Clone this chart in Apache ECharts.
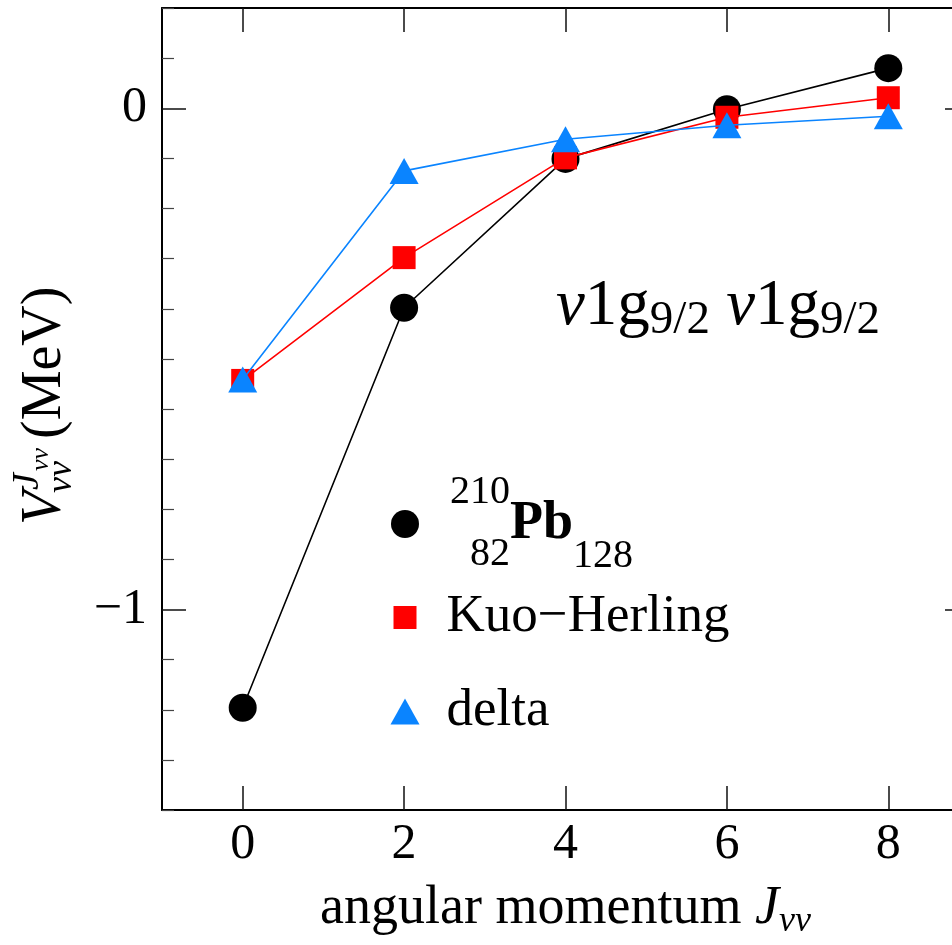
<!DOCTYPE html>
<html>
<head>
<meta charset="utf-8">
<style>
  html, body { margin: 0; padding: 0; background: #ffffff; overflow: hidden; }
  #chart { width: 969px; height: 945px; }
</style>
<script src="https://cdn.jsdelivr.net/npm/echarts@6/dist/echarts.min.js"></script>
</head>
<body>
<div id="chart"></div>
<script>
// Two-neutron interaction matrix elements in the nu 1g9/2 orbit vs. angular momentum J
const jValues = [0, 2, 4, 6, 8];
const pb210 = [-1.196, -0.398, -0.101, -0.002, 0.080];
const kuoHerling = [-0.543, -0.298, -0.099, -0.018, 0.021];
const deltaForce = [-0.541, -0.125, -0.062, -0.034, -0.016];

// Tick positions
const xTickValues = [0, 2, 4, 6, 8];
const yMajorTicks = [-1, 0];
const yMinorTicks = [-1.4, -1.3, -1.2, -1.1, -0.9, -0.8, -0.7, -0.6, -0.5, -0.4, -0.3, -0.2, -0.1, 0.1, 0.2];

const FONT = '"Liberation Serif", "Times New Roman", serif';
const BLUE = '#0a84ff';
const RED = '#ff0000';

const pairs = (xs, ys) => xs.map((x, i) => [x, ys[i]]);

const frameLine = { show: true, onZero: false, lineStyle: { color: '#000', width: 2 } };
const noLine = { show: false, onZero: false };

function yAxisDef(position, ticks, length, withLabels, lineShown) {
  return {
    type: 'value', position, min: -1.4, max: 0.2, interval: 0.1,
    axisLine: lineShown ? frameLine : noLine,
    splitLine: { show: false },
    axisTick: {
      show: true, inside: true, length, customValues: ticks,
      lineStyle: { color: length > 15 ? '#111' : '#444', width: length > 15 ? 1.5 : 1.2 }
    },
    axisLabel: withLabels ? {
      show: true, customValues: yMajorTicks, margin: 15, fontSize: 50,
      fontFamily: FONT, color: '#000',
      formatter: v => (v < 0 ? '\u2212' + Math.abs(v) : String(v))
    } : { show: false }
  };
}

const option = {
  backgroundColor: '#ffffff',
  animation: false,
  // the frame runs from x = -1 to 9; its right edge sits just past the visible page
  grid: { left: 162, top: 8, width: 807, height: 807, containLabel: false },
  xAxis: [
    {
      type: 'value', position: 'bottom', min: -1, max: 9, interval: 1,
      axisLine: frameLine,
      splitLine: { show: false },
      axisTick: { show: true, inside: true, length: 24, customValues: xTickValues,
        lineStyle: { color: '#111', width: 1.5 } },
      axisLabel: { show: true, customValues: xTickValues, margin: 10, fontSize: 50,
        fontFamily: FONT, color: '#000' },
      name: '{n|angular momentum }{i|J}{s|\u03bd\u03bd}',
      nameLocation: 'middle', nameGap: 68,
      nameTextStyle: {
        fontFamily: FONT, color: '#000',
        rich: {
          n: { fontSize: 54, fontFamily: FONT, lineHeight: 62, color: '#000' },
          i: { fontSize: 54, fontFamily: FONT, fontStyle: 'italic', lineHeight: 62, color: '#000' },
          s: { fontSize: 36, fontFamily: FONT, fontStyle: 'italic', lineHeight: 36, verticalAlign: 'bottom', color: '#000' }
        }
      }
    },
    {
      type: 'value', position: 'top', min: -1, max: 9, interval: 1,
      axisLine: frameLine,
      splitLine: { show: false },
      axisTick: { show: true, inside: true, length: 24, customValues: xTickValues,
        lineStyle: { color: '#111', width: 1.5 } },
      axisLabel: { show: false }
    }
  ],
  yAxis: [
    yAxisDef('left', yMajorTicks, 24, true, true),
    yAxisDef('left', yMinorTicks, 12, false, false),
    yAxisDef('right', yMajorTicks, 24, false, true),
    yAxisDef('right', yMinorTicks, 12, false, false)
  ],
  legend: [
    {
      data: [{ name: 'Pb210', icon: 'circle' }],
      left: 391, top: 472, padding: 0, itemWidth: 28, itemHeight: 28, selectedMode: false,
      formatter: () => '{g| }{sup|210}{pb|Pb}{sub|128}',
      textStyle: {
        fontFamily: FONT, color: '#000',
        rich: {
          g: { width: 26, fontSize: 10, lineHeight: 10 },
          sup: { fontSize: 40, fontFamily: FONT, lineHeight: 40, verticalAlign: 'top', color: '#000' },
          pb: { fontSize: 54, fontFamily: FONT, fontWeight: 'bold', lineHeight: 104, verticalAlign: 'middle', color: '#000' },
          sub: { fontSize: 40, fontFamily: FONT, lineHeight: 40, verticalAlign: 'bottom', color: '#000' }
        }
      }
    },
    {
      data: [{ name: 'Kuo\u2212Herling', icon: 'rect' }],
      left: 393.5, top: 591, padding: 0, itemWidth: 23, itemHeight: 23, selectedMode: false,
      formatter: name => '{g| }{t|' + name + '}',
      textStyle: {
        fontFamily: FONT, color: '#000',
        rich: {
          g: { width: 25, fontSize: 10, lineHeight: 10 },
          t: { fontSize: 53, fontFamily: FONT, lineHeight: 60, color: '#000' }
        }
      }
    },
    {
      data: [{ name: 'delta', icon: 'triangle' }],
      left: 390.5, top: 685, padding: 0, itemWidth: 29, itemHeight: 26, selectedMode: false,
      formatter: name => '{g| }{t|' + name + '}',
      textStyle: {
        fontFamily: FONT, color: '#000',
        rich: {
          g: { width: 22, fontSize: 10, lineHeight: 10 },
          t: { fontSize: 53, fontFamily: FONT, lineHeight: 60, color: '#000' }
        }
      }
    }
  ],
  series: [
    {
      name: 'Pb210', type: 'line', xAxisIndex: 0, yAxisIndex: 0,
      data: pairs(jValues, pb210),
      symbol: 'circle', symbolSize: 28,
      itemStyle: { color: '#000' },
      lineStyle: { color: '#000', width: 1.6 },
      z: 2
    },
    {
      name: 'Kuo\u2212Herling', type: 'line', xAxisIndex: 0, yAxisIndex: 0,
      data: pairs(jValues, kuoHerling),
      symbol: 'rect', symbolSize: 23,
      itemStyle: { color: RED },
      lineStyle: { color: RED, width: 1.6 },
      z: 3
    },
    {
      name: 'delta', type: 'line', xAxisIndex: 0, yAxisIndex: 0,
      data: pairs(jValues, deltaForce),
      symbol: 'triangle', symbolSize: [29, 26],
      itemStyle: { color: BLUE },
      lineStyle: { color: BLUE, width: 1.6 },
      z: 4
    }
  ],
  graphic: [
    // lower-left proton number of the nucleus label
    {
      type: 'text', x: 510, y: 554,
      style: { text: '82', align: 'right', verticalAlign: 'middle', fill: '#000',
        font: '40px ' + FONT }
    },
    // orbit label
    {
      type: 'text', x: 556, y: 307,
      style: {
        text: '{i|\u03bd}{n|1g}{s|9/2} {i|\u03bd}{n|1g}{s|9/2}',
        align: 'left', verticalAlign: 'middle', fill: '#000',
        font: '65px ' + FONT,
        rich: {
          i: { fontSize: 65, fontFamily: FONT, fontStyle: 'italic', lineHeight: 74, fill: '#000' },
          n: { fontSize: 65, fontFamily: FONT, lineHeight: 74, fill: '#000' },
          s: { fontSize: 47, fontFamily: FONT, lineHeight: 47, verticalAlign: 'bottom', fill: '#000' }
        }
      }
    },
    // y-axis title, reading bottom to top
    {
      type: 'group', x: 64, y: 525, rotation: Math.PI / 2,
      children: [
        { type: 'text', x: 0, y: -19,
          style: { text: 'V', verticalAlign: 'middle', fill: '#000', font: 'italic 56px ' + FONT } },
        { type: 'text', x: 35, y: -36,
          style: { text: 'J', verticalAlign: 'middle', fill: '#000', font: 'italic 38px ' + FONT } },
        { type: 'text', x: 54, y: -23,
          style: { text: '\u03bd\u03bd', verticalAlign: 'middle', fill: '#000', font: 'italic 26px ' + FONT } },
        { type: 'text', x: 32, y: -2,
          style: { text: '\u03bd\u03bd', verticalAlign: 'middle', fill: '#000', font: 'italic 36px ' + FONT } },
        { type: 'text', x: 86, y: -19,
          style: { text: '(MeV)', verticalAlign: 'middle', fill: '#000', font: '56px ' + FONT } }
      ]
    }
  ]
};

const chart = echarts.init(document.getElementById('chart'), null, { renderer: 'canvas' });
chart.setOption(option);
</script>
</body>
</html>
